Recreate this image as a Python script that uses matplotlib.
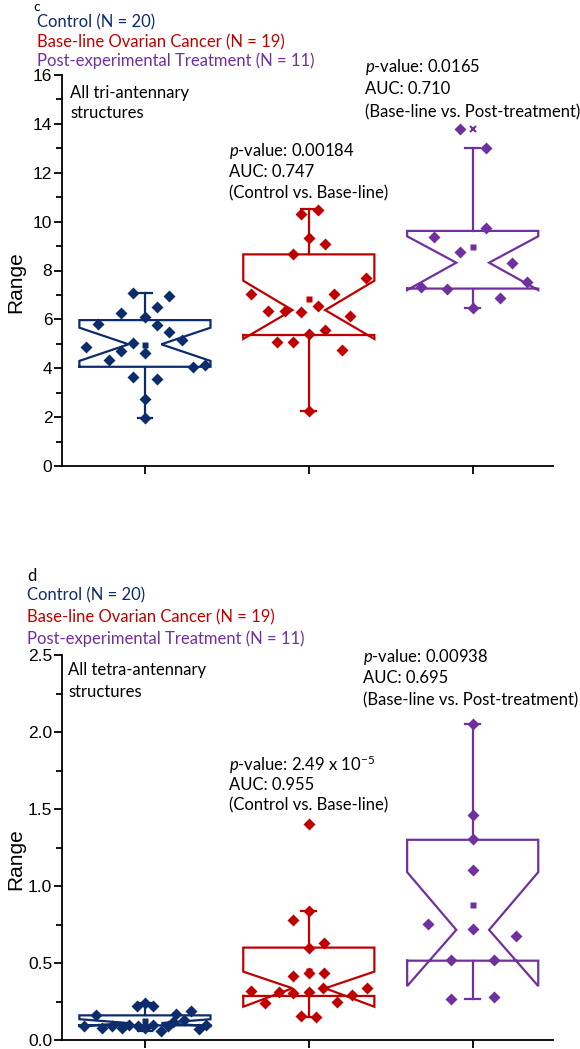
import matplotlib
matplotlib.use('Agg')
import matplotlib.pyplot as plt
from matplotlib.ticker import MultipleLocator

plt.rcParams['font.family'] = ['Liberation Sans', 'DejaVu Sans']
plt.rcParams['mathtext.fontset'] = 'custom'
plt.rcParams['mathtext.rm'] = 'Lato'
plt.rcParams['mathtext.it'] = 'Lato:italic'

groups = ['Control (N = 20)', 'Base-line Ovarian Cancer (N = 19)',
          'Post-experimental Treatment (N = 11)']
colors = ['#0c2c6b', '#c00000', '#7030a0']

# ---- panel c: tri-antennary ----
tri_ctrl = [7.07, 6.96, 6.52, 6.25, 6.11, 5.80, 5.77, 5.50, 5.16, 5.05,
            4.88, 4.71, 4.64, 4.34, 4.04, 4.13, 3.65, 3.56, 2.74, 1.95]
tri_ctrl_dx = [-0.075, 0.148, 0.071, -0.146, 0.0, -0.288, 0.075, 0.146, 0.224, -0.071,
               -0.362, -0.146, 0.0, -0.218, 0.295, 0.366, -0.071, 0.075, 0.0, 0.0]
tri_base = [10.31, 10.47, 9.32, 9.07, 8.66, 7.68, 7.04, 7.04, 6.34, 6.36,
            6.29, 6.55, 6.14, 5.40, 5.56, 5.06, 5.06, 4.75, 2.26]
tri_base_dx = [-0.049, 0.057, 0.0, 0.10, -0.096, 0.35, -0.35, 0.152, -0.248, -0.146,
               -0.049, 0.057, 0.254, 0.0, 0.10, -0.193, -0.096, 0.205, 0.0]
tri_post = [13.78, 13.03, 9.72, 9.38, 8.77, 8.32, 7.54, 7.31, 7.26, 6.89, 6.48]
tri_post_dx = [-0.075, 0.083, 0.083, -0.236, -0.075, 0.242, 0.333, -0.317, -0.157, 0.169, 0.0]

tri_q1 = [4.06, 5.36, 7.26]
tri_med = [4.98, 6.38, 8.32]
tri_q3 = [5.97, 8.66, 9.62]
tri_cilo = [4.30, 5.20, 7.20]
tri_cihi = [5.66, 7.58, 9.40]
tri_wlo = [1.95, 2.26, 6.48]
tri_whi = [7.09, 10.50, 13.03]
tri_mean = [4.94, 6.82, 8.95]

# ---- panel d: tetra-antennary ----
tet_ctrl = [0.09, 0.16, 0.08, 0.09, 0.08, 0.10, 0.22, 0.24, 0.22, 0.09,
            0.08, 0.10, 0.06, 0.09, 0.17, 0.12, 0.19, 0.07, 0.10, 0.13]
tet_ctrl_dx = [-0.37, -0.30, -0.26, -0.20, -0.14, -0.10, -0.05, 0.0, 0.05, -0.04,
               0.0, 0.05, 0.10, 0.14, 0.19, 0.17, 0.28, 0.33, 0.37, 0.24]
tet_base = [1.401, 0.838, 0.779, 0.595, 0.628, 0.418, 0.433, 0.433, 0.320, 0.314,
            0.303, 0.314, 0.336, 0.336, 0.292, 0.238, 0.249, 0.156, 0.152]
tet_base_dx = [0.0, 0.0, -0.095, 0.0, 0.09, -0.095, 0.0, 0.09, -0.355, -0.179,
               -0.095, 0.0, 0.088, 0.356, 0.265, -0.268, 0.173, -0.046, 0.045]
tet_post = [2.052, 1.461, 1.303, 1.104, 0.751, 0.719, 0.677, 0.519, 0.519, 0.266, 0.277]
tet_post_dx = [0.0, 0.0, 0.0, 0.0, -0.271, 0.0, 0.267, -0.132, 0.13, -0.132, 0.13]

tet_q1 = [0.095, 0.286, 0.515]
tet_med = [0.11, 0.336, 0.715]
tet_q3 = [0.16, 0.60, 1.30]
tet_cilo = [0.09, 0.216, 0.35]
tet_cihi = [0.135, 0.444, 1.09]
tet_wlo = [0.06, 0.152, 0.266]
tet_whi = [0.24, 0.838, 2.05]
tet_mean = [0.124, 0.449, 0.877]

W, H = 580, 1049


def fy(py):
    return 1 - py / H


def notched_box(ax, pos, q1, med, q3, lo, hi, wlo, whi, color, hw=0.40, nw=0.10, cw=0.045):
    l, r = pos - hw, pos + hw
    xs = [l, r, r, pos + nw, r, r, l, l, pos - nw, l, l]
    ys = [q1, q1, lo, med, hi, q3, q3, hi, med, lo, q1]
    ax.plot(xs, ys, color=color, lw=1.6, solid_joinstyle='miter', zorder=2)
    ax.plot([pos, pos], [q3, whi], color=color, lw=1.6, zorder=2)
    ax.plot([pos, pos], [q1, wlo], color=color, lw=1.6, zorder=2)
    ax.plot([pos - cw, pos + cw], [whi, whi], color=color, lw=1.6, zorder=2)
    ax.plot([pos - cw, pos + cw], [wlo, wlo], color=color, lw=1.6, zorder=2)


def panel(ax, pts, dxs, q1, med, q3, lo, hi, wlo, whi, mean, ymax, major, minor, fmt):
    for i in range(3):
        notched_box(ax, i, q1[i], med[i], q3[i], lo[i], hi[i], wlo[i], whi[i], colors[i])
        ax.plot([i + d for d in dxs[i]], pts[i], 'D', ms=6.5, color=colors[i], mec='none', zorder=3)
        ax.plot(i, mean[i], 's', ms=4.5, color=colors[i], mec='none', zorder=3)
    ax.set_xlim(-0.506, 2.49)
    ax.set_ylim(0, ymax)
    ax.spines['top'].set_visible(False)
    ax.spines['right'].set_visible(False)
    for s in ['left', 'bottom']:
        ax.spines[s].set_linewidth(1.3)
    ax.set_xticks([0, 1, 2])
    ax.set_xticklabels([])
    ax.yaxis.set_major_locator(MultipleLocator(major))
    ax.yaxis.set_minor_locator(MultipleLocator(minor))
    ax.yaxis.set_major_formatter(plt.FormatStrFormatter(fmt))
    ax.tick_params(axis='both', which='major', length=6, width=1.3, labelsize=12.5, pad=1)
    ax.tick_params(axis='y', which='minor', length=4, width=1.3)
    ax.set_ylabel('Range', fontsize=15)
    ax.yaxis.set_label_coords(-0.075, 0.47)


fig = plt.figure(figsize=(W / 100, H / 100), dpi=100)

axc = fig.add_axes([62 / W, fy(466), (553 - 62) / W, (466 - 75) / H])
panel(axc, [tri_ctrl, tri_base, tri_post], [tri_ctrl_dx, tri_base_dx, tri_post_dx],
      tri_q1, tri_med, tri_q3, tri_cilo, tri_cihi, tri_wlo, tri_whi, tri_mean,
      16, 2, 1, '%d')
axc.plot(2, max(tri_post), 'x', ms=4.5, mew=1.5, color=colors[2], zorder=3)

axd = fig.add_axes([62 / W, fy(1040), (553 - 62) / W, (1040 - 655) / H])
panel(axd, [tet_ctrl, tet_base, tet_post], [tet_ctrl_dx, tet_base_dx, tet_post_dx],
      tet_q1, tet_med, tet_q3, tet_cilo, tet_cihi, tet_wlo, tet_whi, tet_mean,
      2.5, 0.5, 0.25, '%.1f')

tf = dict(family=['Lato', 'DejaVu Sans'], fontsize=12, va='center')

# legends
fig.text(33 / W, fy(1), 'c', family=['Lato', 'DejaVu Sans'], fontsize=10, va='top')
for k, yy in enumerate([22, 42, 61]):
    fig.text(37 / W, fy(yy), groups[k], color=colors[k], **tf)
fig.text(27 / W, fy(576), 'd', **tf)
for k, yy in enumerate([595, 617, 639]):
    fig.text(27 / W, fy(yy), groups[k], color=colors[k], **tf)

# annotations
fig.text(70 / W, fy(93), 'All tri-antennary', **tf)
fig.text(70 / W, fy(113), 'structures', **tf)
fig.text(68 / W, fy(670), 'All tetra-antennary', **tf)
fig.text(68 / W, fy(692), 'structures', **tf)

ann = [
    (229, [151, 172, 193], [r'$\mathit{p}$-value: 0.00184', 'AUC: 0.747', '(Control vs. Base-line)']),
    (365, [67, 89, 112], [r'$\mathit{p}$-value: 0.0165', 'AUC: 0.710', '(Base-line vs. Post-treatment)']),
    (229, [765, 785, 805], [r'$\mathit{p}$-value: 2.49 x 10$^{-5}$', 'AUC: 0.955', '(Control vs. Base-line)']),
    (363, [657, 678, 700], [r'$\mathit{p}$-value: 0.00938', 'AUC: 0.695', '(Base-line vs. Post-treatment)']),
]
for x0, ys, lines in ann:
    for yy, t in zip(ys, lines):
        fig.text(x0 / W, fy(yy), t, **tf)

fig.savefig('out.png', dpi=100)
